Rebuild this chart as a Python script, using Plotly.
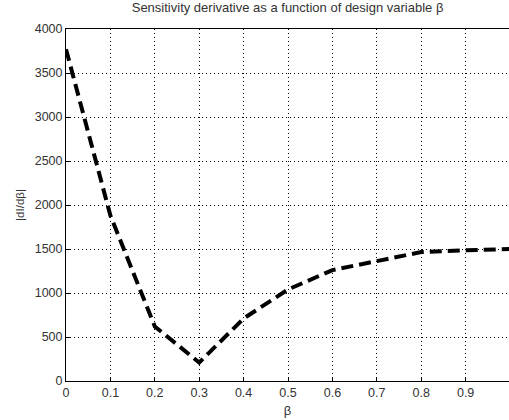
import plotly.graph_objects as go

# Design variable beta and the magnitude of the sensitivity derivative
beta = [0.0, 0.1, 0.2, 0.3, 0.4, 0.5, 0.6, 0.7, 0.8, 0.9, 1.0]
dI_dbeta = [3770, 1880, 620, 210, 710, 1040, 1260, 1360, 1465, 1485, 1500]

x_ticks = [0, 0.1, 0.2, 0.3, 0.4, 0.5, 0.6, 0.7, 0.8, 0.9]
y_ticks = [0, 500, 1000, 1500, 2000, 2500, 3000, 3500, 4000]

fig = go.Figure()
fig.add_trace(go.Scatter(
    x=beta, y=dI_dbeta, mode="lines",
    line=dict(color="black", width=4, dash="12px,6px"),
    showlegend=False,
))

font = dict(family="Liberation Sans, Arial, sans-serif", size=12.5, color="#333333")

fig.update_layout(
    width=509, height=420,
    margin=dict(l=66, r=0, t=29, b=39),
    paper_bgcolor="white", plot_bgcolor="white",
    font=font,
    title=dict(text="Sensitivity derivative as a function of design variable β",
               x=0.565, xanchor="center", y=0.992, yanchor="top",
               font=dict(size=13, color="#333333")),
)
fig.update_xaxes(
    range=[0, 0.9977], tickvals=x_ticks, ticktext=[str(v) for v in x_ticks],
    ticks="inside", ticklen=4, tickcolor="black",
    showline=True, linecolor="black", linewidth=1, mirror=True,
    showgrid=True, gridcolor="black", gridwidth=1, griddash="1px,3px",
    zeroline=False,
    title=dict(text="β", standoff=6, font=dict(size=13)),
)
fig.update_yaxes(
    range=[0, 4000], tickvals=y_ticks,
    ticks="inside", ticklen=4, tickcolor="black",
    showline=True, linecolor="black", linewidth=1,
    showgrid=True, gridcolor="black", gridwidth=1, griddash="1px,3px",
    zeroline=False,
    title=dict(text="|dI/dβ|", standoff=7, font=dict(size=11.5)),
)

fig.write_html("out.html")
